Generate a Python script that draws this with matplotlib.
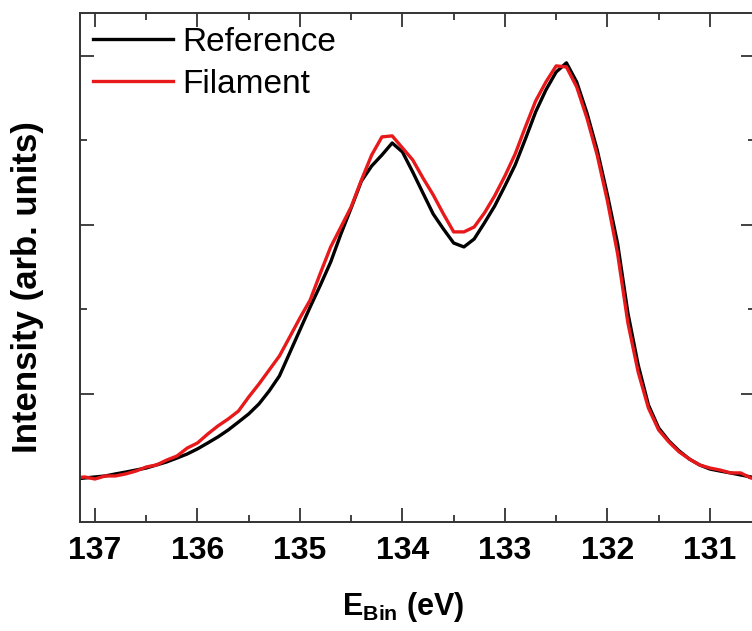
import numpy as np
import matplotlib
matplotlib.use("Agg")
import matplotlib.pyplot as plt
from matplotlib.ticker import MultipleLocator, NullFormatter

plt.rcParams['font.family'] = ['Liberation Sans', 'DejaVu Sans']
plt.rcParams['mathtext.fontset'] = 'custom'
plt.rcParams['mathtext.bf'] = 'Liberation Sans:bold'
plt.rcParams['mathtext.rm'] = 'Liberation Sans:bold'

# Binding energy (eV)
energy = [137.2, 137.1, 137.0, 136.9, 136.8, 136.7, 136.6, 136.5, 136.4, 136.3,
          136.2, 136.1, 136.0, 135.9, 135.8, 135.7, 135.6, 135.5, 135.4, 135.3,
          135.2, 135.1, 135.0, 134.9, 134.8, 134.7, 134.6, 134.5, 134.4, 134.3,
          134.2, 134.1, 134.0, 133.9, 133.8, 133.7, 133.6, 133.5, 133.4, 133.3,
          133.2, 133.1, 133.0, 132.9, 132.8, 132.7, 132.6, 132.5, 132.4, 132.3,
          132.2, 132.1, 132.0, 131.9, 131.8, 131.7, 131.6, 131.5, 131.4, 131.3,
          131.2, 131.1, 131.0, 130.9, 130.8, 130.7, 130.6, 130.5]

reference = [0.497, 0.503, 0.509, 0.515, 0.527, 0.538, 0.550, 0.562, 0.580, 0.598,
             0.621, 0.645, 0.675, 0.710, 0.746, 0.787, 0.834, 0.882, 0.941, 1.018,
             1.107, 1.243, 1.379, 1.515, 1.645, 1.781, 1.947, 2.101, 2.260, 2.349,
             2.414, 2.485, 2.432, 2.314, 2.189, 2.065, 1.976, 1.893, 1.870, 1.917,
             2.012, 2.112, 2.231, 2.355, 2.509, 2.669, 2.799, 2.905, 2.959, 2.846,
             2.663, 2.444, 2.178, 1.888, 1.479, 1.172, 0.935, 0.799, 0.722, 0.663,
             0.615, 0.580, 0.556, 0.544, 0.533, 0.521, 0.509, 0.497]

filament = [0.503, 0.509, 0.497, 0.515, 0.515, 0.527, 0.544, 0.568, 0.580, 0.609,
            0.633, 0.680, 0.710, 0.763, 0.811, 0.852, 0.899, 0.982, 1.059, 1.142,
            1.225, 1.337, 1.450, 1.556, 1.716, 1.870, 1.988, 2.107, 2.266, 2.414,
            2.521, 2.527, 2.456, 2.385, 2.278, 2.178, 2.065, 1.959, 1.959, 1.988,
            2.071, 2.172, 2.290, 2.420, 2.580, 2.734, 2.846, 2.941, 2.935, 2.817,
            2.633, 2.414, 2.142, 1.828, 1.420, 1.130, 0.917, 0.787, 0.716, 0.657,
            0.615, 0.580, 0.562, 0.550, 0.533, 0.533, 0.503, 0.491]

x_ticks = [137, 136, 135, 134, 133, 132, 131]

fig = plt.figure(figsize=(7.52, 6.31), dpi=100)
ax = fig.add_axes([80/752, 1 - 522/631, 675/752, 509/631])

ax.plot(energy, reference, color='black', lw=2.4, label='Reference')
ax.plot(energy, filament, color='#e8191b', lw=2.4, label='Filament')

ax.set_xlim(137.146, 130.56)
ax.set_ylim(0.2426, 3.254)

ax.set_xticks(x_ticks)
ax.set_xticklabels([str(t) for t in x_ticks], fontsize=23, fontweight='bold')
ax.xaxis.set_minor_locator(MultipleLocator(0.5))
ax.yaxis.set_major_locator(MultipleLocator(1.0))
ax.yaxis.set_minor_locator(MultipleLocator(0.5))
ax.yaxis.set_major_formatter(NullFormatter())

ax.tick_params(which='both', direction='in', top=True, right=True, width=1.3, color='#333333')
ax.tick_params(which='major', length=10)
ax.tick_params(which='minor', length=5)
ax.tick_params(axis='x', which='major', pad=10)
for s in ax.spines.values():
    s.set_linewidth(1.4)
    s.set_color('#333333')

ax.set_ylabel('Intensity (arb. units)', fontsize=25, fontweight='bold')
ax.yaxis.set_label_coords(-0.053, 0.461)
ax.set_xlabel(r'$\mathbf{E_{Bin}}$ (eV)', fontsize=22, fontweight='bold')
ax.xaxis.set_label_coords(0.479, -0.134)

leg = ax.legend(loc='upper left', bbox_to_anchor=(0.019, 0.9725), frameon=False,
                fontsize=24, handlelength=2.4, handletextpad=0.27,
                labelspacing=0.33, borderaxespad=0.0, borderpad=0.0)

fig.savefig('out.png', dpi=100)
